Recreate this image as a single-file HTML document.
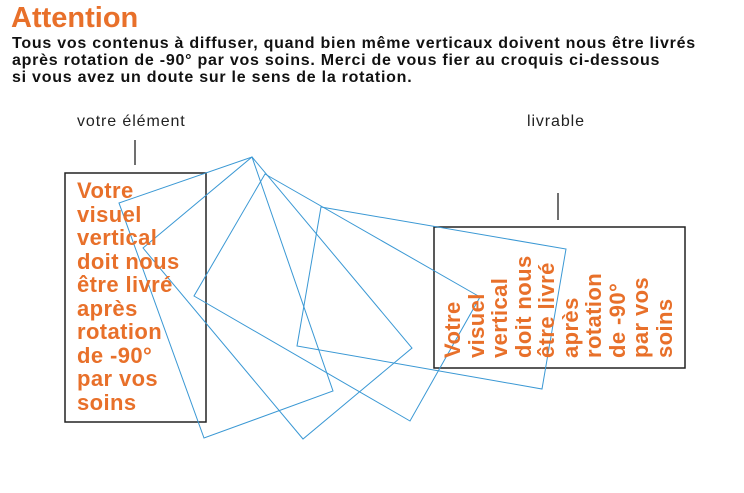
<!DOCTYPE html>
<html><head><meta charset="utf-8"><style>
body{margin:0;width:744px;height:493px;background:#fff;position:relative;overflow:hidden;font-family:"Liberation Sans",sans-serif;}
.a{position:absolute;}
h1{position:absolute;left:11px;top:2px;margin:0;font-size:29px;color:#e8702a;font-weight:bold;letter-spacing:0px;}
.intro{left:12px;top:35px;font-size:16px;font-weight:bold;line-height:17px;color:#111;white-space:nowrap;letter-spacing:0.75px;}
.lbl{font-size:16px;color:#222;letter-spacing:0.9px;}
.ot{font-size:22px;font-weight:bold;color:#e8702a;line-height:23.5px;white-space:nowrap;letter-spacing:0.4px;}
</style></head><body>
<h1>Attention</h1>
<div class="a intro">Tous vos contenus à diffuser, quand bien même verticaux doivent nous être livrés<br>après rotation de -90° par vos soins. Merci de vous fier au croquis ci-dessous<br>si vous avez un doute sur le sens de la rotation.</div>
<div class="a lbl" style="left:77px;top:113px">votre élément</div>
<div class="a lbl" style="left:527px;top:113px">livrable</div>
<svg class="a" style="left:0;top:0" width="744" height="493">
<line x1="135" y1="140" x2="135" y2="165" stroke="#222" stroke-width="1.3"/>
<line x1="558" y1="193" x2="558" y2="220" stroke="#222" stroke-width="1.3"/>
<rect x="65" y="173" width="141" height="249" fill="none" stroke="#222" stroke-width="1.5"/>
<rect x="434" y="227" width="251" height="141" fill="none" stroke="#222" stroke-width="1.5"/>
<g fill="none" stroke="#3a98d4" stroke-width="1">
<polygon points="119,203 252,157 333,391 204,438"/>
<polygon points="143,248 252,157 412,348 303,439"/>
<polygon points="265,174 480,297 410,421 194,296"/>
<polygon points="321,207 566,249 542,389 297,346"/>
</g>
</svg>
<div class="a ot" style="left:77px;top:179px">Votre<br>visuel<br>vertical<br>doit nous<br>être livré<br>après<br>rotation<br>de -90°<br>par vos<br>soins</div>
<div class="a ot" style="left:441px;top:358px;transform-origin:0 0;transform:rotate(-90deg)">Votre<br>visuel<br>vertical<br>doit nous<br>être livré<br>après<br>rotation<br>de -90°<br>par vos<br>soins</div>
</body></html>
